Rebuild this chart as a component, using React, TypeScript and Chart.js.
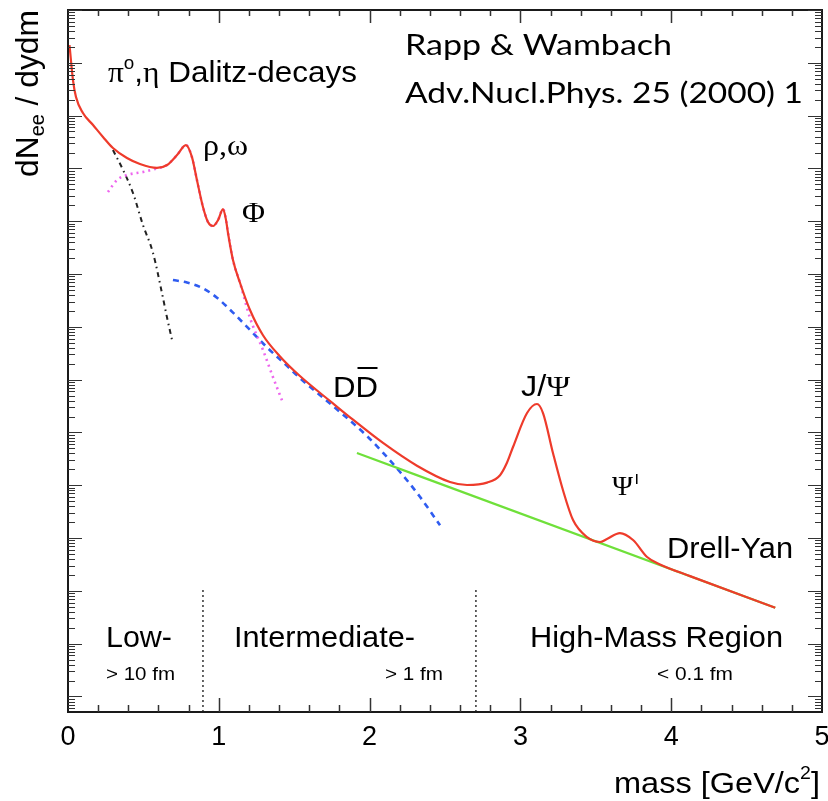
import React, { useEffect, useRef } from "react";
import { Chart, registerables } from "chart.js";

Chart.register(...registerables);

// ---- data (mass in GeV/c^2, yield in arbitrary log units) ----
const totalCurve: [number, number][] = [
  [0.01, 2.17e-1], [0.033, 4.72e-2], [0.053, 2.25e-2], [0.099, 1.12e-2], [0.166, 6.64e-3],
  [0.232, 3.94e-3], [0.298, 2.43e-3], [0.391, 1.57e-3], [0.477, 1.21e-3], [0.59, 1.02e-3],
  [0.657, 1.16e-3], [0.723, 1.79e-3], [0.782, 2.77e-3], [0.822, 1.64e-3], [0.855, 6.03e-4],
  [0.895, 1.86e-4], [0.928, 9.66e-5], [0.962, 8.11e-5], [0.995, 1.05e-4], [1.028, 1.7e-4],
  [1.048, 1.05e-4], [1.061, 5.98e-5], [1.094, 1.84e-5], [1.141, 6.76e-6], [1.207, 2.08e-6],
  [1.293, 6.92e-7], [1.406, 2.75e-7], [1.538, 1.17e-7], [1.757, 3.55e-8], [1.89, 1.74e-8],
  [2.089, 6.31e-9], [2.314, 2.34e-9], [2.533, 1.15e-9], [2.646, 1.01e-9], [2.779, 1.12e-9],
  [2.865, 1.55e-9], [2.91, 2.63e-9], [2.951, 5.29e-9], [3.044, 2.33e-8], [3.11, 3.45e-8],
  [3.15, 2.33e-8], [3.216, 4.07e-9], [3.282, 8.11e-10], [3.349, 2.19e-10], [3.442, 1.04e-10],
  [3.528, 8.4e-11], [3.574, 9.57e-11], [3.66, 1.24e-10], [3.747, 9.16e-11], [3.84, 4.37e-11],
  [3.926, 3.16e-11], [4.125, 1.9e-11], [4.69, 4.78e-12],
];
const drellYanCurve: [number, number][] = [
  [1.916, 4.07e-9], [4.69, 4.78e-12],
];
const charmCurve: [number, number][] = [
  [0.696, 7.69e-6], [0.789, 6.92e-6], [0.895, 5.37e-6], [0.988, 3.55e-6], [1.094, 1.86e-6],
  [1.207, 8.71e-7], [1.32, 4.07e-7], [1.452, 1.82e-7], [1.538, 1.07e-7], [1.757, 3.16e-8],
  [1.983, 8.51e-9], [2.202, 1.78e-9], [2.334, 6.03e-10], [2.467, 1.74e-10],
];
const vectorMesonCurve: [number, number][] = [
  [0.265, 3.57e-4], [0.325, 6.03e-4], [0.391, 7.5e-4], [0.497, 8.55e-4], [0.59, 1.0e-3],
  [0.657, 1.16e-3], [0.723, 1.79e-3], [0.782, 2.77e-3], [0.822, 1.64e-3], [0.855, 6.03e-4],
  [0.895, 1.86e-4], [0.928, 9.66e-5], [0.962, 8.11e-5], [0.995, 1.05e-4], [1.028, 1.7e-4],
  [1.048, 1.05e-4], [1.061, 5.98e-5], [1.094, 1.84e-5], [1.141, 6.76e-6], [1.207, 1.47e-6],
  [1.293, 3.64e-7], [1.359, 1.12e-7], [1.426, 3.61e-8],
];
const dalitzCurve: [number, number][] = [
  [0.298, 2.23e-3], [0.365, 9.33e-4], [0.431, 3.42e-4], [0.497, 8.47e-5], [0.564, 2.5e-5],
  [0.623, 4.37e-6], [0.656, 1.53e-6], [0.69, 5.62e-7],
];
const regionBoundaries = [0.895, 2.705];
const regionLineTop = 1.13e-11;
const xTickValues = [0, 1, 2, 3, 4, 5];
const X_MIN = 0;
const X_MAX = 5;
const Y_MIN = 5.07e-14;
const Y_MAX = 1;

const SANS = '"Liberation Sans", Arial, Helvetica, sans-serif';
const SERIF = '"Liberation Serif", "Times New Roman", serif';
const CITE = 'Lato, "Open Sans", sans-serif';

type Run = { t: string; f: string; dy?: number };

function runsWidth(ctx: CanvasRenderingContext2D, runs: Run[]) {
  let w = 0;
  for (const r of runs) {
    ctx.font = r.f;
    w += ctx.measureText(r.t).width;
  }
  return w;
}

// draws text runs starting at (x, y baseline), horizontally fitted to target width
function drawRuns(ctx: CanvasRenderingContext2D, x: number, y: number, runs: Run[], target?: number) {
  const w = runsWidth(ctx, runs);
  const sx = target ? target / w : 1;
  ctx.save();
  ctx.translate(x, y);
  ctx.scale(sx, 1);
  let cx = 0;
  const starts: number[] = [];
  for (const r of runs) {
    ctx.font = r.f;
    starts.push(cx * sx + x);
    ctx.fillText(r.t, cx, r.dy || 0);
    cx += ctx.measureText(r.t).width;
  }
  ctx.restore();
  return { starts, sx };
}

const decorPlugin = {
  id: "decor",
  afterDatasetsDraw(chart: any) {
    const ctx: CanvasRenderingContext2D = chart.ctx;
    const { left, right, top, bottom } = chart.chartArea;
    const xs = chart.scales.x;
    const ys = chart.scales.y;
    ctx.save();
    // frame
    ctx.strokeStyle = "#1a1a1a";
    ctx.lineWidth = 2;
    ctx.strokeRect(left, top, right - left, bottom - top);
    // x ticks (bottom & top, inward)
    ctx.lineWidth = 1.5;
    ctx.strokeStyle = "#333";
    for (let i = 1; i < 25; i++) {
      const v = i * 0.2;
      const px = Math.round(xs.getPixelForValue(v)) + 0.5;
      const len = i % 5 === 0 ? 14 : 7;
      ctx.beginPath();
      ctx.moveTo(px, bottom);
      ctx.lineTo(px, bottom - len);
      ctx.moveTo(px, top);
      ctx.lineTo(px, top + (i % 5 === 0 ? 13 : 6));
      ctx.stroke();
    }
    // y ticks (log, left & right, inward)
    ctx.lineWidth = 1.2;
    for (let n = -14; n <= 0; n++) {
      for (let k = 1; k <= 9; k++) {
        const v = k * Math.pow(10, n);
        if (v < Y_MIN || v > Y_MAX) continue;
        const py = Math.round(ys.getPixelForValue(v)) + 0.5;
        const len = k === 1 ? 14 : 7;
        ctx.beginPath();
        ctx.moveTo(left, py);
        ctx.lineTo(left + len, py);
        ctx.moveTo(right, py);
        ctx.lineTo(right - len, py);
        ctx.stroke();
      }
    }
    ctx.restore();

    // ---- text ----
    ctx.save();
    ctx.fillStyle = "#000";
    ctx.textBaseline = "alphabetic";

    // x tick labels, placed by the x scale
    ctx.textAlign = "center";
    ctx.font = `27px ${SANS}`;
    for (const v of xTickValues) {
      ctx.fillText(String(v), xs.getPixelForValue(v), bottom + 33);
    }
    ctx.textAlign = "left";

    // y-axis title (rotated)
    ctx.save();
    ctx.translate(38, 177);
    ctx.rotate(-Math.PI / 2);
    drawRuns(ctx, 0, 0, [
      { t: "dN", f: `32px ${SANS}` },
      { t: "ee", f: `20px ${SANS}`, dy: 6 },
      { t: " / dydm", f: `32px ${SANS}` },
    ], 167);
    ctx.restore();

    // x-axis title
    drawRuns(ctx, 614, 793, [
      { t: "mass [GeV/c", f: `30px ${SANS}` },
      { t: "2", f: `18px ${SANS}`, dy: -14 },
      { t: "]", f: `30px ${SANS}` },
    ], 206);

    // citation
    drawRuns(ctx, 405, 55, [{ t: "Rapp & Wambach", f: `28px ${CITE}` }], 267);
    drawRuns(ctx, 405, 103, [{ t: "Adv.Nucl.Phys. 25 (2000) 1", f: `28px ${CITE}` }], 398);

    // curve labels
    drawRuns(ctx, 108, 82, [
      { t: "\u03c0", f: `30px ${SERIF}` },
      { t: "o", f: `18px ${SANS}`, dy: -13 },
      { t: ",", f: `30px ${SANS}` },
      { t: "\u03b7", f: `30px ${SERIF}` },
      { t: " Dalitz-decays", f: `30px ${SANS}` },
    ], 249);
    drawRuns(ctx, 203, 155, [{ t: "\u03c1,\u03c9", f: `30px ${SERIF}` }], 45);
    drawRuns(ctx, 242, 222, [{ t: "\u03a6", f: `30px ${SERIF}` }], 23);
    const dd = drawRuns(ctx, 333, 397, [
      { t: "D", f: `30px ${SANS}` },
      { t: "D", f: `30px ${SANS}` },
    ], 45);
    ctx.fillRect(dd.starts[1] + 2, 367, 20, 2);
    drawRuns(ctx, 521, 396, [
      { t: "J/", f: `30px ${SANS}` },
      { t: "\u03a8", f: `30px ${SERIF}` },
    ], 49);
    drawRuns(ctx, 612, 495, [{ t: "\u03a8", f: `28px ${SERIF}` }], 21);
    ctx.fillRect(636, 474, 1.5, 10);
    drawRuns(ctx, 667, 558, [{ t: "Drell-Yan", f: `30px ${SANS}` }], 126);

    // region labels
    drawRuns(ctx, 106, 647, [{ t: "Low-", f: `30px ${SANS}` }], 66);
    drawRuns(ctx, 234, 647, [{ t: "Intermediate-", f: `30px ${SANS}` }], 181);
    drawRuns(ctx, 530, 647, [{ t: "High-Mass Region", f: `30px ${SANS}` }], 253);
    drawRuns(ctx, 106, 680, [{ t: "> 10 fm", f: `19px ${SANS}` }], 69);
    drawRuns(ctx, 385, 680, [{ t: "> 1 fm", f: `19px ${SANS}` }], 58);
    drawRuns(ctx, 657, 680, [{ t: "< 0.1 fm", f: `19px ${SANS}` }], 76);
    ctx.restore();
  },
};

const toXY = (c: [number, number][]) => c.map(([x, y]) => ({ x, y }));

export default function App() {
  const ref = useRef<HTMLCanvasElement | null>(null);
  useEffect(() => {
    document.body.style.margin = "0";
    const canvas = ref.current!;
    const lineBase = { pointRadius: 0, fill: false, tension: 0.4, cubicInterpolationMode: "monotone" as const };
    const chart = new Chart(canvas, {
      type: "line",
      data: {
        datasets: [
          { ...lineBase, label: "total", data: toXY(totalCurve), borderColor: "#ee3b2b", borderWidth: 2.2 },
          { ...lineBase, label: "Drell-Yan", data: toXY(drellYanCurve), borderColor: "#6fe03a", borderWidth: 2.2, tension: 0 },
          { ...lineBase, label: "vector mesons", data: toXY(vectorMesonCurve), borderColor: "#ee66ee", borderWidth: 2.6, borderDash: [2, 4] },
          { ...lineBase, label: "open charm", data: toXY(charmCurve), borderColor: "#2f5cf0", borderWidth: 2.6, borderDash: [6, 5] },
          { ...lineBase, label: "Dalitz", data: toXY(dalitzCurve), borderColor: "#222", borderWidth: 2, borderDash: [5, 4, 1.5, 4] },
          ...regionBoundaries.map((m, i) => ({
            label: "boundary " + i,
            data: [{ x: m, y: Y_MIN }, { x: m, y: regionLineTop }],
            borderColor: "#333",
            borderWidth: 1.5,
            borderDash: [2, 3],
            pointRadius: 0,
            tension: 0,
            fill: false,
          })),
        ],
      },
      options: {
        animation: false,
        responsive: false,
        devicePixelRatio: 1,
        layout: { padding: { left: 68, right: 6, top: 10, bottom: 89 } },
        plugins: { legend: { display: false }, tooltip: { enabled: false } },
        scales: {
          x: {
            type: "linear",
            min: X_MIN,
            max: X_MAX,
            display: false,
          },
          y: {
            type: "logarithmic",
            min: Y_MIN,
            max: Y_MAX,
            display: false,
          },
        },
      },
      plugins: [decorPlugin],
    });
    return () => chart.destroy();
  }, []);
  return (
    <div style={{ width: 828, height: 801, background: "#fff" }}>
      <canvas ref={ref} width={828} height={801} style={{ display: "block" }} />
    </div>
  );
}
